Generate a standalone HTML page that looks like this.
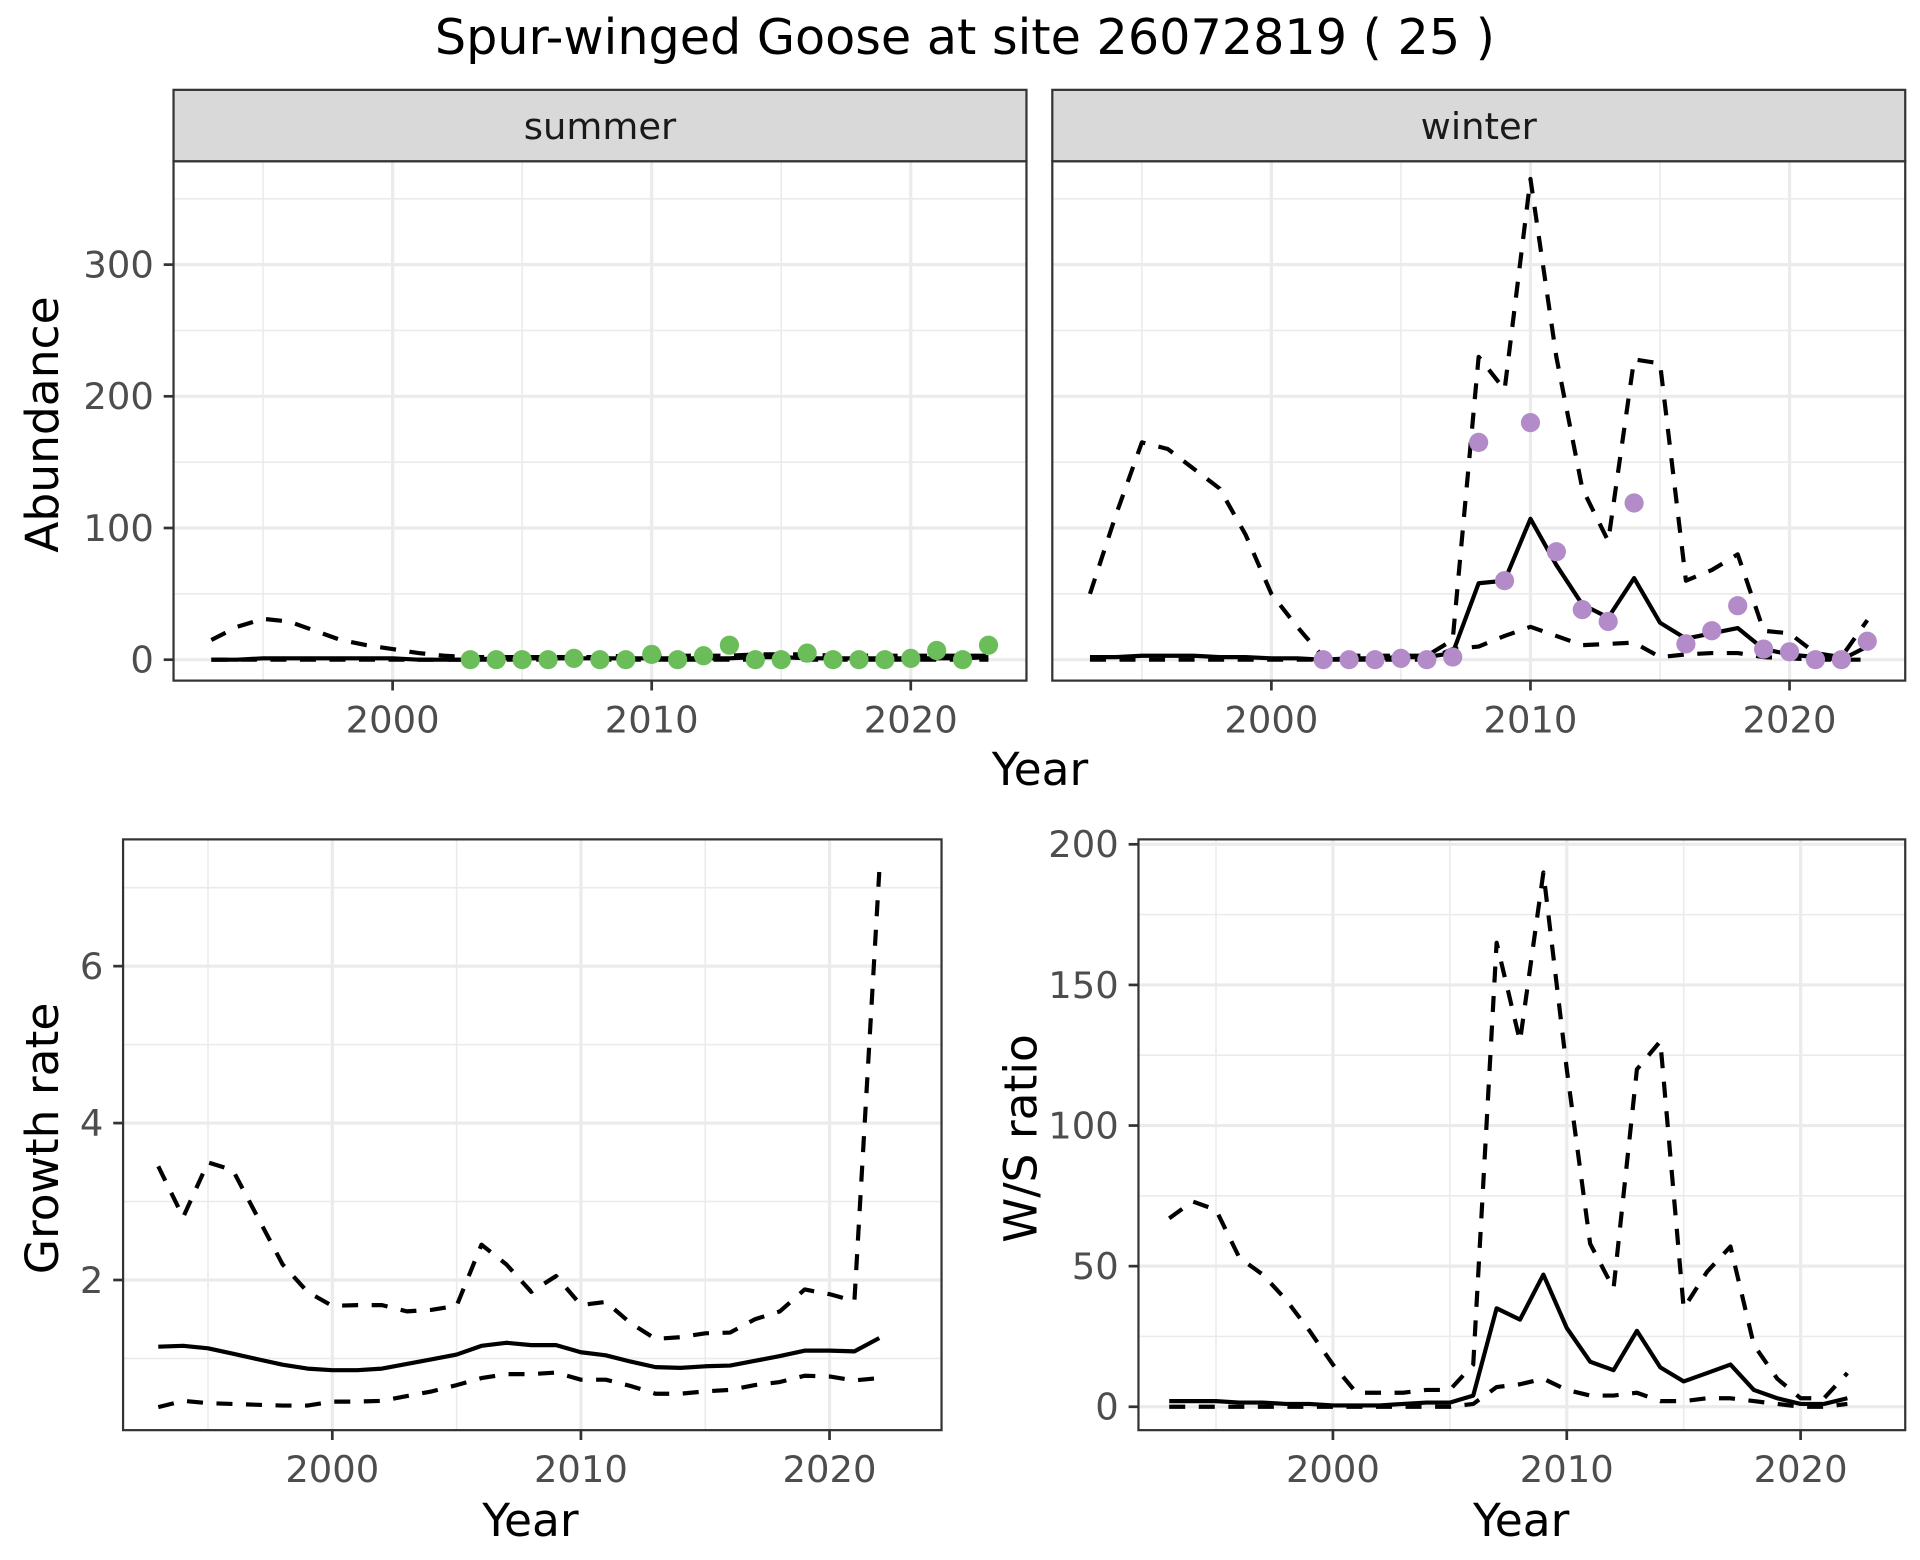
<!DOCTYPE html>
<html><head><meta charset="utf-8">
<style>
html,body{margin:0;padding:0;background:#fff;}
svg{display:block;}
text{font-family:"DejaVu Sans","Liberation Sans",sans-serif;}
</style></head>
<body>
<svg id="fig" xmlns="http://www.w3.org/2000/svg" width="1920" height="1560" viewBox="0 0 1560 1267.5">
<rect width="1560" height="1267.5" fill="#fff"/>
<text x="784" y="44" font-size="40" text-anchor="middle" fill="#000">Spur-winged Goose at site 26072819 ( 25 )</text>
</svg>
<script>
// ---------- data ----------
const yearsA = [1993,1994,1995,1996,1997,1998,1999,2000,2001,2002,2003,2004,2005,2006,2007,2008,2009,2010,2011,2012,2013,2014,2015,2016,2017,2018,2019,2020,2021,2022,2023];
const summerMid = [0,0,1,1,1,1,1,1,0,0,0,1,1,1,1,1,1,1,1,1,1,2,2,1,1,1,1,1,1,1,2];
const summerUpper = [15,25,31,29,22,15,11,8,5,3,2,2,2,2,2,2,3,3,3,3,3,4,4,4,3,3,3,3,3,3,3];
const summerLower = [0,0,0,0,0,0,0,0,0,0,0,0,0,0,0,0,0,0,0,0,0,0,0,0,0,0,0,0,0,0,0];
const summerPtYears = [2003,2004,2005,2006,2007,2008,2009,2010,2011,2012,2013,2014,2015,2016,2017,2018,2019,2020,2021,2022,2023];
const summerPts = [0,0,0,0,1,0,0,4,0,3,11,0,0,5,0,0,0,1,7,0,11];
const winterMid = [2,2,3,3,3,2,2,1,1,0,1,1,2,2,5,58,60,107,72,42,32,62,28,16,20,24,8,4,2,0,10];
const winterUpper = [50,110,165,160,145,130,95,50,25,2,3,3,3,3,15,230,205,365,230,130,90,228,225,60,68,80,22,20,5,2,30];
const winterLower = [0,0,0,0,0,0,0,0,0,0,0,0,0,0,8,10,18,25,18,11,12,13,2,4,5,5,2,1,0,0,0];
const winterPtYears = [2002,2003,2004,2005,2006,2007,2008,2009,2010,2011,2012,2013,2014,2016,2017,2018,2019,2020,2021,2022,2023];
const winterPts = [0,0,0,1,0,2,165,60,180,82,38,29,119,12,22,41,8,6,0,0,14];
const yearsB = [1993,1994,1995,1996,1997,1998,1999,2000,2001,2002,2003,2004,2005,2006,2007,2008,2009,2010,2011,2012,2013,2014,2015,2016,2017,2018,2019,2020,2021,2022];
const growthMid = [1.15,1.16,1.13,1.06,0.99,0.92,0.87,0.85,0.85,0.87,0.93,0.99,1.05,1.16,1.20,1.17,1.17,1.08,1.04,0.96,0.89,0.88,0.90,0.91,0.97,1.03,1.10,1.10,1.09,1.26];
const growthUpper = [3.45,2.8,3.5,3.4,2.8,2.2,1.85,1.67,1.68,1.68,1.6,1.62,1.67,2.45,2.2,1.85,2.05,1.68,1.72,1.45,1.25,1.27,1.32,1.33,1.5,1.6,1.88,1.82,1.73,7.2];
const growthLower = [0.38,0.46,0.43,0.42,0.41,0.40,0.40,0.45,0.45,0.46,0.52,0.58,0.66,0.75,0.80,0.80,0.82,0.73,0.73,0.65,0.55,0.55,0.58,0.60,0.66,0.70,0.78,0.77,0.72,0.75];
const ratioMid = [2,2,2,1.5,1.5,1,1,0.5,0.5,0.5,1,1.5,1.5,4,35,31,47,28,16,13,27,14,9,12,15,6,3,1,1,3];
const ratioUpper = [67,73,70,53,47,38,27,15,5,5,5,6,6,15,165,130,190,120,58,42,120,130,35,48,57,22,10,3,3,12];
const ratioLower = [0,0,0,0,0,0,0,0,0,0,0,0,0,1,7,8,10,6,4,4,5,2,2,3,3,2,1,0,0,1];
const xTicks = [2000,2010,2020];
const xTickLabels = ["2000","2010","2020"];
const abTicks = [0,100,200,300];
const abTickLabels = ["0","100","200","300"];
const grTicks = [2,4,6];
const grTickLabels = ["2","4","6"];
const wsTicks = [0,50,100,150,200];
const wsTickLabels = ["0","50","100","150","200"];

// ---------- helpers ----------
const NS="http://www.w3.org/2000/svg";
const svg=document.getElementById('fig');
function mk(tag,attrs,parent){const e=document.createElementNS(NS,tag);for(const k in attrs)e.setAttribute(k,attrs[k]);(parent||svg).appendChild(e);return e;}
function lin(d0,d1,r0,r1){return v=>r0+(v-d0)*(r1-r0)/(d1-d0);}

function panel(cfg){
  const g=mk('g',{});
  
  
  const {x0,x1,y0,y1,sx,sy}=cfg;
  mk('rect',{x:x0,y:y0,width:x1-x0,height:y1-y0,fill:'#fff'},g);
  for(const t of cfg.xMinor){const x=sx(t);if(x>x0&&x<x1)mk('line',{x1:x,x2:x,y1:y0,y2:y1,stroke:'#ebebeb','stroke-width':1.3},g);}
  for(const t of cfg.yMinor){const y=sy(t);if(y>y0&&y<y1)mk('line',{x1:x0,x2:x1,y1:y,y2:y,stroke:'#ebebeb','stroke-width':1.3},g);}
  for(const t of xTicks){const x=sx(t);const l=mk('line',{x1:x,x2:x,y1:y0,y2:y1,stroke:'#ebebeb','stroke-width':2.6},g);
    }
  cfg.yTicks.forEach(t=>{const y=sy(t);const l=mk('line',{x1:x0,x2:x1,y1:y,y2:y,stroke:'#ebebeb','stroke-width':2.6},g);
    });
  const path=(ys,vals,dash,nm)=>{let d='';ys.forEach((yr,i)=>{d+=(i?'L':'M')+sx(yr).toFixed(1)+','+sy(vals[i]).toFixed(1);});
    const p=mk('path',{d:d,fill:'none',stroke:'#000','stroke-width':3.4,'stroke-dasharray':dash||'none','stroke-linejoin':'round'},g);
    };
  path(cfg.years,cfg.lower,'13,11',cfg.name+'-lower-bound');
  path(cfg.years,cfg.upper,'13,11',cfg.name+'-upper-bound');
  path(cfg.years,cfg.mid,null,cfg.name+'-estimate');
  if(cfg.ptYears){cfg.ptYears.forEach((yr,i)=>{const c=mk('circle',{cx:sx(yr),cy:sy(cfg.pts[i]),r:7.8,fill:cfg.ptColor},g);
    });}
  mk('rect',{x:x0,y:y0,width:x1-x0,height:y1-y0,fill:'none',stroke:'#333','stroke-width':1.8},g);
  if(cfg.showY){cfg.yTicks.forEach((t,i)=>{const y=sy(t);mk('line',{x1:x0-8,x2:x0,y1:y,y2:y,stroke:'#333','stroke-width':2.2},g);
    const tx=mk('text',{x:x0-16,y:y+10.5,'font-size':30,'text-anchor':'end',fill:'#4d4d4d'},g);tx.textContent=cfg.yLabels[i];
    });}
  xTicks.forEach((t,i)=>{const x=sx(t);mk('line',{x1:x,x2:x,y1:y1,y2:y1+8,stroke:'#333','stroke-width':2.2},g);
    const tx=mk('text',{x:x,y:y1+42,'font-size':30,'text-anchor':'middle',fill:'#4d4d4d'},g);tx.textContent=xTickLabels[i];
    });
  if(cfg.strip){const sr=mk('rect',{x:x0,y:73,width:x1-x0,height:y0-73,fill:'#d9d9d9',stroke:'#333','stroke-width':1.8},g);
    
    const st=mk('text',{x:(x0+x1)/2,y:113,'font-size':30,'text-anchor':'middle',fill:'#1a1a1a'},g);st.textContent=cfg.strip;
    }
}
function axisTitle(txt,x,y,rot,nm){const t=mk('text',{x:x,y:y,'font-size':37,'text-anchor':'middle',fill:'#000',transform:rot?`rotate(-90 ${x} ${y})`:''});
  t.textContent=txt;}

const minorYears=[1995,2005,2015,2025];
const syA=lin(0,100,536,429);
panel({name:'summer-panel',x0:141,x1:834,y0:131,y1:553,sx:lin(2000,2020,319,740),sy:syA,xMinor:minorYears,yTicks:abTicks,yLabels:abTickLabels,yMinor:[50,150,250,350],
  years:yearsA,mid:summerMid,upper:summerUpper,lower:summerLower,ptYears:summerPtYears,pts:summerPts,ptColor:'#6abd59',showY:true,strip:'summer'});
panel({name:'winter-panel',x0:855,x1:1548,y0:131,y1:553,sx:lin(2000,2020,1033,1454),sy:syA,xMinor:minorYears,yTicks:abTicks,yLabels:abTickLabels,yMinor:[50,150,250,350],
  years:yearsA,mid:winterMid,upper:winterUpper,lower:winterLower,ptYears:winterPtYears,pts:winterPts,ptColor:'#b38bc8',showY:false,strip:'winter'});
axisTitle('Abundance',47,345,true,'y-axis-title-abundance');
axisTitle('Year',845,638,false,'x-axis-title-top');
panel({name:'growth-panel',x0:100,x1:765,y0:682,y1:1162,sx:lin(2000,2020,270,674),sy:lin(0,6,1167.5,785),xMinor:minorYears,yTicks:grTicks,yLabels:grTickLabels,yMinor:[1,3,5,7],
  years:yearsB,mid:growthMid,upper:growthUpper,lower:growthLower,showY:true});
axisTitle('Growth rate',47,925,true,'y-axis-title-growth');
axisTitle('Year',431,1248,false,'x-axis-title-growth');
panel({name:'ratio-panel',x0:925,x1:1548,y0:682,y1:1162,sx:lin(2000,2020,1083,1463),sy:lin(0,200,1143,686),xMinor:minorYears,yTicks:wsTicks,yLabels:wsTickLabels,yMinor:[25,75,125,175],
  years:yearsB,mid:ratioMid,upper:ratioUpper,lower:ratioLower,showY:true});
axisTitle('W/S ratio',842,925,true,'y-axis-title-ratio');
axisTitle('Year',1236,1248,false,'x-axis-title-ratio');
</script>
</body></html>
